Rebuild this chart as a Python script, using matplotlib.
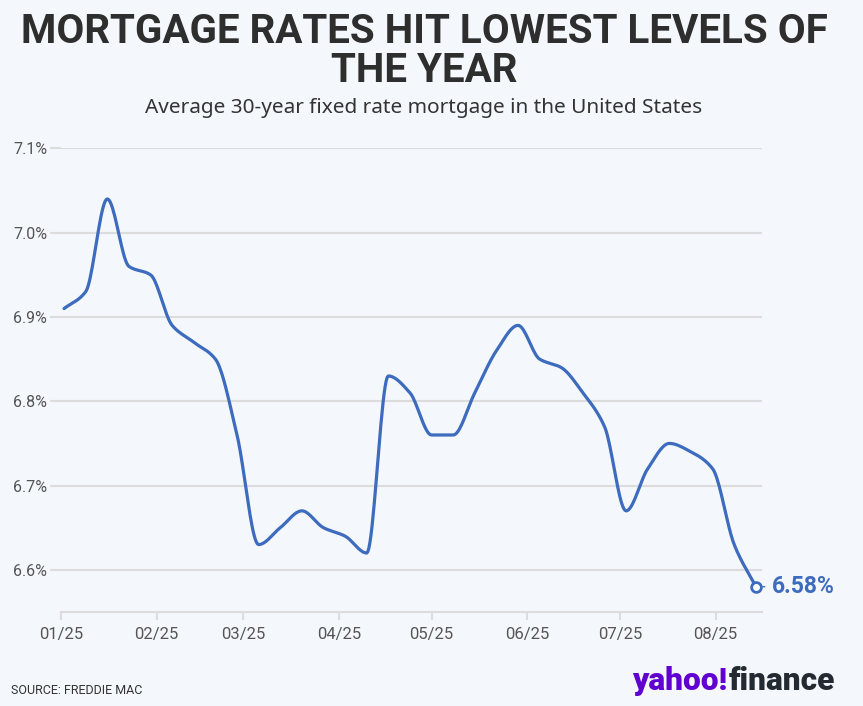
import numpy as np
import matplotlib
matplotlib.use("Agg")
import matplotlib.pyplot as plt
import matplotlib.dates as mdates

# weekly average 30-year fixed rate, Freddie Mac, 2025
week = ["2025-01-02", "2025-01-09", "2025-01-16", "2025-01-23", "2025-01-30",
        "2025-02-06", "2025-02-13", "2025-02-20", "2025-02-27", "2025-03-06",
        "2025-03-13", "2025-03-20", "2025-03-27", "2025-04-03", "2025-04-10",
        "2025-04-17", "2025-04-24", "2025-05-01", "2025-05-08", "2025-05-15",
        "2025-05-22", "2025-05-29", "2025-06-05", "2025-06-12", "2025-06-19",
        "2025-06-26", "2025-07-03", "2025-07-10", "2025-07-17", "2025-07-24",
        "2025-07-31", "2025-08-07", "2025-08-14"]
rate = [6.91, 6.93, 7.04, 6.96, 6.95, 6.89, 6.87, 6.85, 6.76, 6.63,
        6.65, 6.67, 6.65, 6.64, 6.62, 6.83, 6.81, 6.76, 6.76, 6.81,
        6.86, 6.89, 6.85, 6.84, 6.81, 6.77, 6.67, 6.72, 6.75, 6.74,
        6.72, 6.63, 6.58]
yticks = [6.6, 6.7, 6.8, 6.9, 7.0, 7.1]
month_ticks = ["2025-%02d-01" % m for m in range(1, 9)]

BG = "#f4f7fb"
BLUE = "#3d6bbd"
GRID = "#dcdcdc"
plt.rcParams['font.family'] = ['Roboto', 'DejaVu Sans']


def monotone(x, y, n=20):
    # monotone cubic (curveMonotoneX style) just for drawing the line
    x = np.asarray(x, float); y = np.asarray(y, float)
    h = np.diff(x); d = np.diff(y) / h
    m = np.zeros_like(y)
    for i in range(1, len(y) - 1):
        if d[i - 1] * d[i] <= 0:
            m[i] = 0
        else:
            w1 = 2 * h[i] + h[i - 1]; w2 = h[i] + 2 * h[i - 1]
            m[i] = (w1 + w2) / (w1 / d[i - 1] + w2 / d[i])
    m[0] = d[0]; m[-1] = d[-1]
    xs, ys = [], []
    for i in range(len(h)):
        t = np.linspace(0, 1, n, endpoint=False)
        h00 = 2*t**3 - 3*t**2 + 1; h10 = t**3 - 2*t**2 + t
        h01 = -2*t**3 + 3*t**2; h11 = t**3 - t**2
        xs.append(x[i] + t * h[i])
        ys.append(h00*y[i] + h10*h[i]*m[i] + h01*y[i+1] + h11*h[i]*m[i+1])
    xs.append([x[-1]]); ys.append([y[-1]])
    return np.concatenate(xs), np.concatenate(ys)


def fit(txt, width_px, renderer):
    w = txt.get_window_extent(renderer).width
    txt.set_fontsize(txt.get_fontsize() * width_px / w)


xd = mdates.datestr2num(week)
fig = plt.figure(figsize=(8.63, 7.06), dpi=100, facecolor=BG)
ax = fig.add_axes([61/863, 1-612/706, (762-61)/863, (612-148.4)/706])
ax.set_facecolor(BG)

sx, sy = monotone(xd, rate)
ax.plot(sx, sy, color=BLUE, lw=2.3, solid_capstyle="round", zorder=3)
ax.plot(xd[-1], rate[-1], "o", ms=7, mfc="white", mec=BLUE, mew=2, zorder=4, clip_on=False)
ax.annotate("", xy=(xd[-1] + 2.3, rate[-1]), xytext=(xd[-1] + 3.8, rate[-1]),
            arrowprops=dict(arrowstyle="-", color=BLUE, lw=1), annotation_clip=False)
ax.text(xd[-1] + 5.2, rate[-1], "%.2f%%" % rate[-1], color=BLUE, fontsize=16.5,
        fontweight="bold", va="center", ha="left", clip_on=False)

ax.set_xlim(mdates.datestr2num("2025-01-01"), mdates.datestr2num("2025-08-16"))
ax.set_ylim(6.55, 7.1)
ax.set_yticks(yticks)
ax.set_yticklabels(["%.1f%%" % v for v in yticks])
ax.set_xticks(mdates.datestr2num(month_ticks))
ax.xaxis.set_major_formatter(mdates.DateFormatter("%m/%y"))
ax.grid(axis="y", color=GRID, lw=1.5, zorder=1)
ax.tick_params(axis="y", length=8, width=1.5, color=GRID, labelsize=11.5,
               labelcolor="#555555", pad=2)
ax.tick_params(axis="x", length=6, width=1.5, color=GRID, labelsize=12,
               labelcolor="#555555", pad=5)
for lab in ax.get_yticklabels():
    lab.set_fontstretch("condensed")
for s in ["top", "right", "left"]:
    ax.spines[s].set_visible(False)
ax.spines["bottom"].set_color(GRID)
ax.spines["bottom"].set_linewidth(1.5)

r = fig.canvas.get_renderer()
t1 = fig.text(424/863, 1-32/706, "MORTGAGE RATES HIT LOWEST LEVELS OF", ha="center",
              va="center", fontsize=28, fontweight="bold", color="#2e2e2e")
t2 = fig.text(424/863, 1-71/706, "THE YEAR", ha="center", va="center",
              fontsize=28, fontweight="bold", color="#2e2e2e")
fit(t1, 808, r)
t2.set_fontsize(t1.get_fontsize())
st = fig.text(424/863, 1-108/706, "Average 30-year fixed rate mortgage in the United States",
              ha="center", va="center", fontsize=14, color="#333333",
              family=["Noto Sans", "DejaVu Sans"])
fit(st, 558, r)

fig.text(11/863, 1-690/706, "SOURCE: FREDDIE MAC", ha="left", va="center",
         fontsize=9, color="#333333")

y1 = fig.text(632/863, 1-690/706, "yahoo!", ha="left", va="baseline",
              fontsize=22, fontweight="black", color="#6001d2")
fig.canvas.draw()
bb = y1.get_window_extent(r)
y2 = fig.text(bb.x1/863 + 1/863, 1-690/706, "finance", ha="left", va="baseline",
              fontsize=22, fontweight="black", color="#232a31")
fig.canvas.draw()
full = y2.get_window_extent(r).x1 - 632
if full > 0:
    k = 202 / full
    y1.set_fontsize(22 * k)
    fig.canvas.draw()
    bb = y1.get_window_extent(r)
    y2.set_fontsize(22 * k)
    y2.set_x(bb.x1/863 + 1/863)

fig.savefig("out.png", dpi=100, facecolor=BG)
